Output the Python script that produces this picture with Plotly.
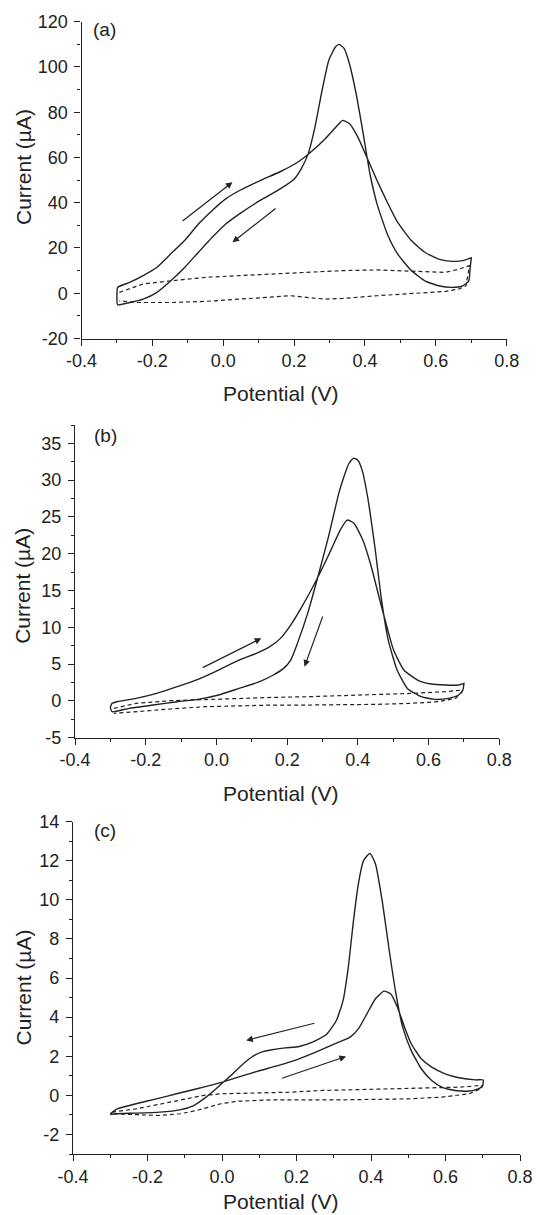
import plotly.graph_objects as go

W, H = 537, 1215
FONT = "Liberation Sans, Arial, sans-serif"
INK = "#222222"

# ---------------- Panel (a) ----------------
a_fwd_x = [-0.298, -0.264, -0.226, -0.187, -0.148, -0.109, -0.070, -0.031, 0.007, 0.046, 0.104, 0.162, 0.211, 0.240,
           0.288, 0.327, 0.337, 0.356, 0.380, 0.405, 0.434, 0.463, 0.492, 0.531, 0.569, 0.608, 0.647, 0.676, 0.700]
a_fwd_y = [2.6, 4.8, 7.8, 11.5, 17.4, 23.3, 30.6, 36.6, 41.7, 45.4, 49.8, 53.8, 58.0, 61.4,
           68.3, 75.0, 76.4, 75.0, 69.0, 60.2, 49.8, 40.2, 31.4, 23.3, 18.1, 15.1, 14.1, 14.4, 15.6]
a_rev_x = [0.700, 0.697, 0.693, 0.676, 0.647, 0.608, 0.569, 0.531, 0.492, 0.463, 0.434, 0.414, 0.395, 0.375, 0.356,
           0.341, 0.327, 0.317, 0.298, 0.279, 0.259, 0.240, 0.220, 0.201, 0.162, 0.104, 0.046, 0.007, -0.031,
           -0.070, -0.109, -0.148, -0.187, -0.226, -0.264, -0.298, -0.300, -0.298]
a_rev_y = [15.6, 11.4, 5.5, 3.3, 2.6, 3.3, 5.5, 10.0, 17.4, 26.2, 39.5, 52.8, 70.5, 88.2, 101.5,
           108.2, 110.0, 108.9, 103.0, 89.7, 73.5, 61.7, 55.0, 50.6, 46.2, 41.0, 35.1, 30.6, 24.7,
           18.1, 11.4, 5.5, 0.4, -2.6, -4.1, -5.1, -1.0, 2.6]
a_bg_up_x = [-0.293, -0.226, -0.148, -0.051, 0.046, 0.143, 0.240, 0.337, 0.434, 0.482, 0.579, 0.627, 0.666, 0.695]
a_bg_up_y = [0.4, 4.1, 5.5, 7.0, 7.8, 8.5, 9.2, 10.0, 10.3, 10.0, 9.2, 9.2, 10.7, 12.2]
a_bg_lo_x = [0.695, 0.685, 0.666, 0.627, 0.531, 0.434, 0.337, 0.288, 0.240, 0.191, 0.143, 0.046, -0.003, -0.051,
             -0.148, -0.245, -0.293]
a_bg_lo_y = [12.2, 3.3, 1.9, 0.8, 0.0, -1.1, -2.3, -2.6, -1.9, -1.1, -1.6, -2.6, -3.3, -3.6,
             -4.1, -4.1, -3.3]
a_arrows = [((-0.119, 31.4), (0.026, 49.1)), ((0.152, 38.0), (0.026, 22.5))]

# ---------------- Panel (b) ----------------
b_fwd_x = [-0.295, -0.281, -0.227, -0.169, -0.111, -0.052, 0.006, 0.064, 0.113, 0.151, 0.181, 0.210, 0.239, 0.268,
           0.297, 0.326, 0.350, 0.370, 0.389, 0.414, 0.438, 0.462, 0.482, 0.501, 0.530, 0.569, 0.608, 0.647, 0.685, 0.700]
b_fwd_y = [-0.33, -0.11, 0.35, 1.02, 1.93, 2.93, 4.20, 5.55, 6.46, 7.37, 8.50, 10.31, 12.58, 15.07,
           17.79, 20.73, 23.22, 24.58, 24.13, 21.86, 18.24, 13.71, 10.09, 6.91, 4.20, 2.84, 2.29, 2.16, 2.16, 2.38]
b_rev_x = [0.700, 0.697, 0.685, 0.656, 0.617, 0.579, 0.540, 0.511, 0.486, 0.467, 0.448, 0.428, 0.413, 0.400, 0.388,
           0.375, 0.360, 0.346, 0.317, 0.287, 0.258, 0.229, 0.210, 0.190, 0.161, 0.122, 0.064, 0.006, -0.052, -0.111,
           -0.179, -0.247, -0.295, -0.300, -0.295]
b_rev_y = [2.38, 1.48, 0.80, 0.35, 0.21, 0.57, 1.70, 4.20, 8.27, 13.71, 20.96, 27.60, 31.20, 32.70, 33.00,
           32.30, 30.40, 28.20, 22.32, 16.88, 11.90, 7.82, 5.55, 4.42, 3.52, 2.61, 1.70, 0.80, 0.21, -0.11,
           -0.56, -1.01, -1.47, -0.90, -0.33]
b_bg_up_x = [-0.290, -0.227, -0.130, -0.033, 0.064, 0.161, 0.258, 0.355, 0.452, 0.550, 0.647, 0.695]
b_bg_up_y = [-1.01, -0.33, 0.03, 0.21, 0.35, 0.48, 0.57, 0.71, 0.84, 1.02, 1.25, 1.48]
b_bg_lo_x = [0.695, 0.676, 0.627, 0.550, 0.452, 0.355, 0.258, 0.161, 0.064, -0.033, -0.130, -0.227, -0.290]
b_bg_lo_y = [1.25, 0.35, -0.11, -0.33, -0.47, -0.56, -0.56, -0.56, -0.65, -0.79, -1.10, -1.47, -1.69]
b_arrows = [((-0.043, 4.42), (0.127, 8.5)), ((0.302, 11.67), (0.249, 4.65))]

# ---------------- Panel (c) ----------------
c_fwd_x = [-0.300, -0.281, -0.231, -0.176, -0.122, -0.067, -0.021, 0.001, 0.043, 0.097, 0.152, 0.207, 0.261, 0.307,
           0.344, 0.366, 0.389, 0.412, 0.435, 0.453, 0.471, 0.490, 0.508, 0.535, 0.563, 0.599, 0.636, 0.681, 0.701]
c_fwd_y = [-0.94, -0.69, -0.43, -0.18, 0.08, 0.34, 0.56, 0.68, 0.93, 1.24, 1.53, 1.87, 2.29, 2.67,
           2.98, 3.40, 4.17, 4.94, 5.33, 5.19, 4.51, 3.49, 2.64, 1.87, 1.44, 1.10, 0.90, 0.79, 0.79]
c_rev_x = [0.700, 0.690, 0.663, 0.626, 0.590, 0.563, 0.535, 0.508, 0.485, 0.467, 0.449, 0.430, 0.412, 0.397, 0.380,
           0.366, 0.353, 0.339, 0.325, 0.307, 0.280, 0.243, 0.207, 0.170, 0.134, 0.106, 0.079, 0.052, 0.024,
           0.001, -0.021, -0.049, -0.076, -0.113, -0.167, -0.231, -0.286, -0.300]
c_rev_y = [0.51, 0.34, 0.22, 0.25, 0.42, 0.76, 1.36, 2.29, 3.49, 5.19, 7.41, 9.96, 11.84, 12.38, 12.01,
           10.81, 8.94, 6.55, 4.85, 3.83, 3.11, 2.72, 2.50, 2.43, 2.33, 2.21, 1.95, 1.53, 1.02,
           0.63, 0.25, -0.18, -0.52, -0.74, -0.86, -0.91, -0.94, -0.98]
c_bg_up_x = [-0.295, -0.231, -0.140, -0.049, -0.003, 0.088, 0.179, 0.271, 0.362, 0.453, 0.544, 0.636, 0.700]
c_bg_up_y = [-0.86, -0.69, -0.35, 0.0, 0.08, 0.13, 0.16, 0.25, 0.30, 0.33, 0.37, 0.42, 0.51]
c_bg_lo_x = [0.695, 0.663, 0.590, 0.499, 0.407, 0.316, 0.225, 0.134, 0.043, -0.003, -0.067, -0.113, -0.167, -0.231, -0.295]
c_bg_lo_y = [0.34, 0.08, -0.09, -0.18, -0.21, -0.23, -0.23, -0.23, -0.30, -0.43, -0.77, -0.94, -1.03, -0.98, -0.94]
c_arrows = [((0.252, 3.71), (0.065, 2.81)), ((0.157, 0.85), (0.333, 1.99))]

# ---------------- Axes / ticks ----------------
x_ticks = [-0.4, -0.2, 0.0, 0.2, 0.4, 0.6, 0.8]
x_ticktext = ["-0.4", "-0.2", "0.0", "0.2", "0.4", "0.6", "0.8"]
a_yticks = [-20, 0, 20, 40, 60, 80, 100, 120]
b_yticks = [-5, 0, 5, 10, 15, 20, 25, 30, 35]
c_yticks = [-2, 0, 2, 4, 6, 8, 10, 12, 14]
panel_labels = ["(a)", "(b)", "(c)"]
x_title = "Potential (V)"
y_title = "Current (µA)"

# layout in pixels: (x0, x1, ytop, ybottom)
boxes = [(81.5, 506.7, 21.7, 338.5), (75.0, 499.3, 425.0, 737.7), (73.0, 520.0, 821.7, 1154.0)]
y_ranges = [(-20, 120), (-5, 37.5), (-3, 14)]
y_minor = [10, 2.5, 1]
y_tick_lists = [a_yticks, b_yticks, c_yticks]

fig = go.Figure()

panels = [
    (a_fwd_x + a_rev_x, a_fwd_y + a_rev_y, a_bg_up_x + a_bg_lo_x, a_bg_up_y + a_bg_lo_y, a_arrows),
    (b_fwd_x + b_rev_x, b_fwd_y + b_rev_y, b_bg_up_x + b_bg_lo_x, b_bg_up_y + b_bg_lo_y, b_arrows),
    (c_fwd_x + c_rev_x, c_fwd_y + c_rev_y, c_bg_up_x + c_bg_lo_x, c_bg_up_y + c_bg_lo_y, c_arrows),
]

annotations = []
layout_axes = {}
for i, (sx, sy, dx, dy, arrows) in enumerate(panels):
    n = "" if i == 0 else str(i + 1)
    xa, ya = "x" + n, "y" + n
    fig.add_trace(go.Scatter(x=dx, y=dy, mode="lines", xaxis=xa, yaxis=ya,
                             line=dict(color=INK, width=1.2, dash="4px,3px"), showlegend=False))
    fig.add_trace(go.Scatter(x=sx, y=sy, mode="lines", xaxis=xa, yaxis=ya,
                             line=dict(color=INK, width=1.4, shape="spline", smoothing=0.5), showlegend=False))
    for (tx, ty), (hx, hy) in arrows:
        annotations.append(dict(x=hx, y=hy, ax=tx, ay=ty, xref=xa, yref=ya, axref=xa, ayref=ya,
                                showarrow=True, arrowhead=2, arrowsize=1.1, arrowwidth=1.2,
                                arrowcolor=INK, text=""))
    x0, x1, yt, yb = boxes[i]
    tickfont = dict(family=FONT, size=18, color=INK)
    layout_axes["xaxis" + n] = dict(
        domain=[x0 / W, x1 / W], anchor=ya, range=[-0.4, 0.8], showline=True, linecolor=INK, linewidth=1.3,
        showgrid=False, zeroline=False, ticks="outside", ticklen=6, tickwidth=1.2, tickcolor=INK,
        tickvals=x_ticks, ticktext=x_ticktext, tickfont=tickfont, automargin=False,
        minor=dict(dtick=0.1, tick0=-0.4, ticks="outside", ticklen=3, tickwidth=1.1, tickcolor=INK),
        fixedrange=True)
    layout_axes["yaxis" + n] = dict(
        domain=[1 - yb / H, 1 - yt / H], anchor=xa, range=list(y_ranges[i]), showline=True, linecolor=INK,
        linewidth=1.3, showgrid=False, zeroline=False, ticks="outside", ticklen=6, tickwidth=1.2, tickcolor=INK,
        tickvals=y_tick_lists[i], ticktext=[str(v) for v in y_tick_lists[i]], tickfont=tickfont, automargin=False,
        ticklabelstandoff=3,
        minor=dict(dtick=y_minor[i], tick0=0, ticks="outside", ticklen=3, tickwidth=1.1, tickcolor=INK),
        fixedrange=True)

# titles and panel labels (pixel positions)
xtitle_pos = [(281, 393.0), (281, 793.3), (281, 1201.0)]
ytitle_pos = [(23, 167.0), (23, 585.8), (23, 987.5)]
label_pos = [(91, 29.0), (92, 435.7), (92, 830.7)]
for i in range(3):
    px, py = xtitle_pos[i]
    annotations.append(dict(x=px / W, y=1 - py / H, xref="paper", yref="paper", text=x_title, showarrow=False,
                            xanchor="center", yanchor="middle", font=dict(family=FONT, size=21, color=INK)))
    px, py = ytitle_pos[i]
    annotations.append(dict(x=px / W, y=1 - py / H, xref="paper", yref="paper", text=y_title, showarrow=False,
                            textangle=-90, xanchor="center", yanchor="middle",
                            font=dict(family=FONT, size=21, color=INK)))
    px, py = label_pos[i]
    annotations.append(dict(x=px / W, y=1 - py / H, xref="paper", yref="paper", text=panel_labels[i],
                            showarrow=False, xanchor="left", yanchor="middle",
                            font=dict(family=FONT, size=19, color=INK)))

fig.update_layout(width=W, height=H, autosize=False, margin=dict(l=0, r=0, t=0, b=0),
                  paper_bgcolor="white", plot_bgcolor="white", annotations=annotations, **layout_axes)

fig.write_html("out.html", config={"displayModeBar": False},
               post_script="document.body.style.margin='0';document.body.style.overflow='hidden';")
